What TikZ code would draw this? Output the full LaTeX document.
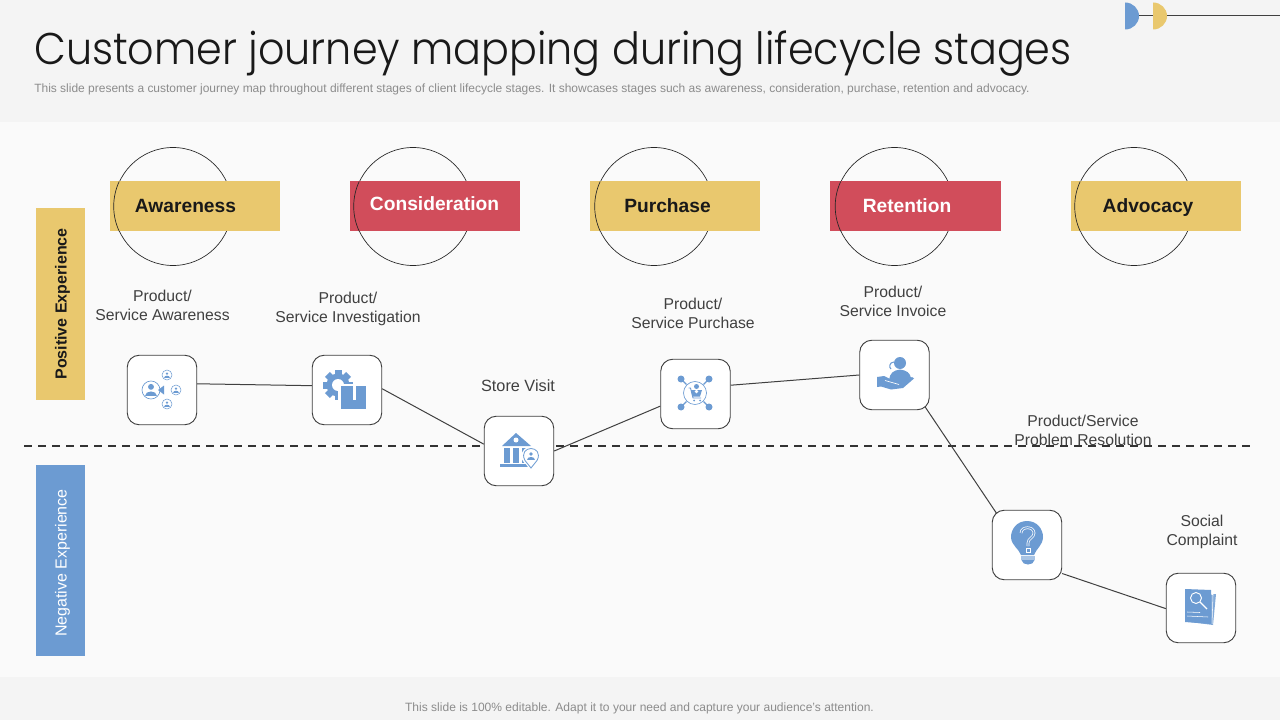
\documentclass[tikz,border=0pt]{standalone}
\usepackage{fontspec}
\setmainfont{Liberation Sans}
\newfontfamily\titlefont[FakeStretch=0.93]{Poppins Light}
\definecolor{bandgray}{HTML}{F4F4F4}
\definecolor{midgray}{HTML}{FAFAFA}
\definecolor{ylw}{HTML}{E9C86E}
\definecolor{redd}{HTML}{D14D5B}
\definecolor{blu}{HTML}{6C9BD2}
\definecolor{txt}{HTML}{404040}
\definecolor{subt}{HTML}{8C8C8C}
\newcommand{\persn}[3]{%
  \fill[blu] (#1,#2-0.45*#3) circle ({0.42*#3});
  \fill[blu] (#1-0.85*#3,#2+0.85*#3) .. controls (#1-0.85*#3,#2+0.05*#3) and (#1+0.85*#3,#2+0.05*#3) .. (#1+0.85*#3,#2+0.85*#3) -- cycle;}
\tikzset{
  stage/.style={minimum width=170*0.75pt,minimum height=50*0.75pt,inner sep=0pt},
  stagetext/.style={anchor=base,inner sep=0pt,font=\fontsize{14.4}{18}\selectfont\bfseries},
  ring/.style={draw=black!85,line width=0.5pt,circle,minimum size=118*0.75pt,inner sep=0pt},
  ringarc/.style={draw=black!85,line width=0.5pt},
  iconbox/.style={draw=txt,fill=white,line width=0.7pt,rounded corners=9pt,minimum size=69.5*0.75pt,inner sep=0pt},
  conn/.style={draw=txt,line width=0.75pt},
  lab/.style={text=txt,align=center,font=\fontsize{11.8}{14.25}\selectfont,inner sep=0pt},
  side/.style={minimum width=49*0.75pt,inner sep=0pt},
  sidetext/.style={rotate=90,inner sep=0pt,font=\fontsize{12}{14}\selectfont},
}
\begin{document}
\begin{tikzpicture}[x=0.75pt,y=-0.75pt]
\useasboundingbox (0,0) rectangle (1280,720);
\fill[bandgray] (0,0) rectangle (1280,720);
\fill[midgray] (0,122) rectangle (1280,677);
% top right ornament
\coordinate (ornL) at (1139,16);
\coordinate (ornR) at (1280,16);
\draw[txt,line width=0.75pt] (ornL) -- (ornR);
\fill[blu] (1125,2.5) arc (-90:90:14 and 13.5) -- cycle;
\fill[ylw] (1153,2.5) arc (-90:90:14 and 13.5) -- cycle;
% title
\node[anchor=base west,inner sep=0pt,text=black!90] (title) at (34,64.5) {\titlefont\fontsize{33.3}{40}\selectfont Customer journey mapping during lifecycle stages};
\node[anchor=base west,inner sep=0pt,text=subt] (subtitle) at (34,92.5) {\fontsize{8.99}{11}\selectfont This slide presents a customer journey map throughout different stages of client lifecycle stages. It showcases stages such as awareness, consideration, purchase, retention and advocacy.};
\node[inner sep=0pt,text=subt] (footer) at (639.5,708) {\fontsize{9.03}{11}\selectfont This slide is 100\% editable. Adapt it to your need and capture your audience’s attention.};
% side bars
\node[side,fill=ylw,minimum height=192*0.75pt] (pos) at (60.5,304) {};
\node[sidetext,text=black!90] (posT) at (62.5,304) {\bfseries Positive Experience};
\node[side,fill=blu,minimum height=191*0.75pt] (neg) at (60.5,560.5) {};
\node[sidetext,text=white] (negT) at (62.5,563) {Negative Experience};
% rings, then the bands over them, then the left arcs over the bands
\node[ring] (c1) at (173,206.5) {};
\node[ring] (c2) at (413,206.5) {};
\node[ring] (c3) at (654,206.5) {};
\node[ring] (c4) at (894.5,206.5) {};
\node[ring] (c5) at (1134,206.5) {};
\node[stage,fill=ylw] (s1) at (195,206) {};
\node[stage,fill=redd] (s2) at (435,206) {};
\node[stage,fill=ylw] (s3) at (675,206) {};
\node[stage,fill=redd,minimum width=171*0.75pt] (s4) at (915.5,206) {};
\node[stage,fill=ylw] (s5) at (1156,206) {};
\foreach \cc in {c1,c2,c3,c4,c5}{
  \draw[ringarc] (\cc.155) arc (205:155:59);
}
\node[stagetext,text=black!90] (t1) at (185.5,213) {Awareness};
\node[stagetext,text=white] (t2) at (434.5,211) {Consideration};
\node[stagetext,text=black!90] (t3) at (667.5,213) {Purchase};
\node[stagetext,text=white] (t4) at (907,213) {Retention};
\node[stagetext,text=black!90] (t5) at (1148,213) {Advocacy};
% dashed line
\coordinate (dashL) at (24,446);
\coordinate (dashR) at (1250,446);
\draw[black!80,line width=1.3pt,dash pattern=on 6.2pt off 4.3pt] (dashL) -- (dashR);
% labels
\node[lab] (l1) at (162.5,305) {Product/\\Service Awareness};
\node[lab] (l2) at (348,308.5) {Product/\\Service Investigation};
\node[lab,font=\fontsize{12.2}{14.25}\selectfont] (l3) at (518,386) {Store Visit};
\node[lab] (l4) at (693,313) {Product/\\Service Purchase};
\node[lab] (l5) at (893,301) {Product/\\Service Invoice};
\node[lab] (l6) at (1083,430.5) {Product/Service\hspace{10.5pt}\\Problem Resolution};
\node[lab] (l7) at (1202,531.5) {Social\hspace{4pt}\\Complaint};
% boxes
\node[iconbox] (a) at (162,390) {};
\node[iconbox] (b) at (347,390) {};
\node[iconbox] (c) at (519,451) {};
\node[iconbox] (d) at (695.5,394) {};
\node[iconbox] (e) at (894.5,375) {};
\node[iconbox] (f) at (1027,545) {};
\node[iconbox] (g) at (1201,608) {};
% connectors
\draw[conn] (a.10) -- (b.173);
\draw[conn] (b.2) -- (c.169);
\draw[conn] (c.east) -- (d.199);
\draw[conn] (d.14) -- (e.west);
\draw[conn,shorten <=-3pt,shorten >=-3pt] (e.-47) -- (f.133);
\draw[conn] (f.-39) -- (g.181);
% icon a
\draw[blu,line width=0.5pt] (151,390) circle (9);
\persn{151}{390}{7}
\fill[blu] (158,390) -- (164,385.5) -- (164,394.5) -- cycle;
\foreach \xx/\yy in {167/375,176/390,167/404}{
  \draw[blu,line width=0.4pt] (\xx,\yy) circle (5);
  \persn{\xx}{\yy}{3}
}
% icon b
\foreach \ang in {0,45,...,315}{
  \fill[blu,rotate around={\ang:(338,385)}] (334.5,370) rectangle (341.5,376);
}
\fill[blu] (338,385) circle (11.5);
\fill[white] (338,385) circle (6);
\fill[white] (338,384) rectangle (368,411);
\fill[blu] (340.5,386) rectangle (366,392);
\fill[blu] (341,391) rectangle (365.5,409);
\fill[white] (352.5,386) rectangle (355.5,400);
% icon c
\fill[blu] (516,433) -- (531,446) -- (502,446) -- cycle;
\fill[white] (516,440) circle (2.5);
\foreach \xx in {504,513,522}{\fill[blu] (\xx,448) rectangle (\xx+6,463);}
\fill[blu] (500,463.5) rectangle (531,467);
\fill[white] (531,456) circle (9.5);
\fill[white] (531,471) -- (522,459) -- (540,459) -- cycle;
\draw[blu,line width=0.6pt,fill=white] (531,468) -- (525,460.5) .. controls (521,453) and (526,448.5) .. (531,448.5) .. controls (536,448.5) and (541,453) .. (537,460.5) -- cycle;
\persn{531}{456}{4.5}
% icon d
\foreach \xx/\yy in {681/379,709/379,681/407,709/407}{
  \draw[blu,line width=1pt] (695,393) -- (\xx,\yy);
  \fill[blu] (\xx,\yy) circle (3.5);
}
\fill[white] (695,393) circle (12);
\draw[blu,line width=0.5pt] (695,393) circle (11.5);
\draw[blu,line width=0.7pt] (688.5,388) -- (690.5,388) -- (693,398) -- (701,398);
\fill[blu] (691,390) -- (702,390) -- (700,396.5) -- (692.5,396.5) -- cycle;
\fill[white] (696.5,391.5) circle (1.8);
\fill[blu] (696.5,386.5) circle (2.5);
\fill[blu] (694,400.5) circle (1);
\fill[blu] (700,400.5) circle (1);
% icon e
\fill[blu] (900,363) circle (6);
\fill[blu] (889,380) .. controls (890,373) and (893,370.5) .. (900,369.5) .. controls (907,370.5) and (910,373) .. (911,378) -- (900,384) -- cycle;
\draw[blu,line width=0.8pt] (894,362) .. controls (889,362) and (889,368) .. (891,369);
\fill[blu] (877,377) -- (884,376) -- (892,380) -- (899,380) -- (901,383) -- (912,377) -- (914,378.5) -- (903,388) -- (891,389.5) -- (881,386.5) -- (877,387) -- cycle;
\draw[white,line width=0.5pt] (885,380.5) -- (899,384.5);
% icon f
\fill[blu] (1027,521) .. controls (1037,521) and (1043,529) .. (1043,537)
  .. controls (1043,545) and (1036,549) .. (1034,555) -- (1021,555)
  .. controls (1019,549) and (1011,545) .. (1011,537)
  .. controls (1011,529) and (1017,521) .. (1027,521) -- cycle;
\draw[white,line width=2pt] (1021,533) .. controls (1021,526) and (1034,526) .. (1034,533) .. controls (1034,538) and (1028,538) .. (1028,543) -- (1028,546);
\draw[blu,line width=0.9pt] (1021,533) .. controls (1021,526) and (1034,526) .. (1034,533) .. controls (1034,538) and (1028,538) .. (1028,543) -- (1028,546);
\draw[white,line width=0.7pt] (1026,548) rectangle (1030,552);
\fill[blu!60] (1021,556) rectangle (1035,559.5);
\fill[blu] (1021.5,560) -- (1034.5,560) .. controls (1034,566) and (1022,566) .. (1021.5,560) -- cycle;
% icon g
\fill[blu!85] (1191,594) -- (1216,594) -- (1213,625) -- (1190,622) -- cycle;
\draw[white,line width=0.4pt] (1191,594) -- (1213,594.5) -- (1212,624);
\fill[blu] (1185,589) -- (1211,590) -- (1211,624) -- (1185,622) -- cycle;
\draw[white,line width=0.7pt] (1196,598) circle (5.5);
\draw[white,line width=1pt] (1200,602) -- (1207,609);
\draw[white,line width=0.4pt] (1187,612) -- (1200,612.5) (1187,616) -- (1208,617);
\end{tikzpicture}
\end{document}
